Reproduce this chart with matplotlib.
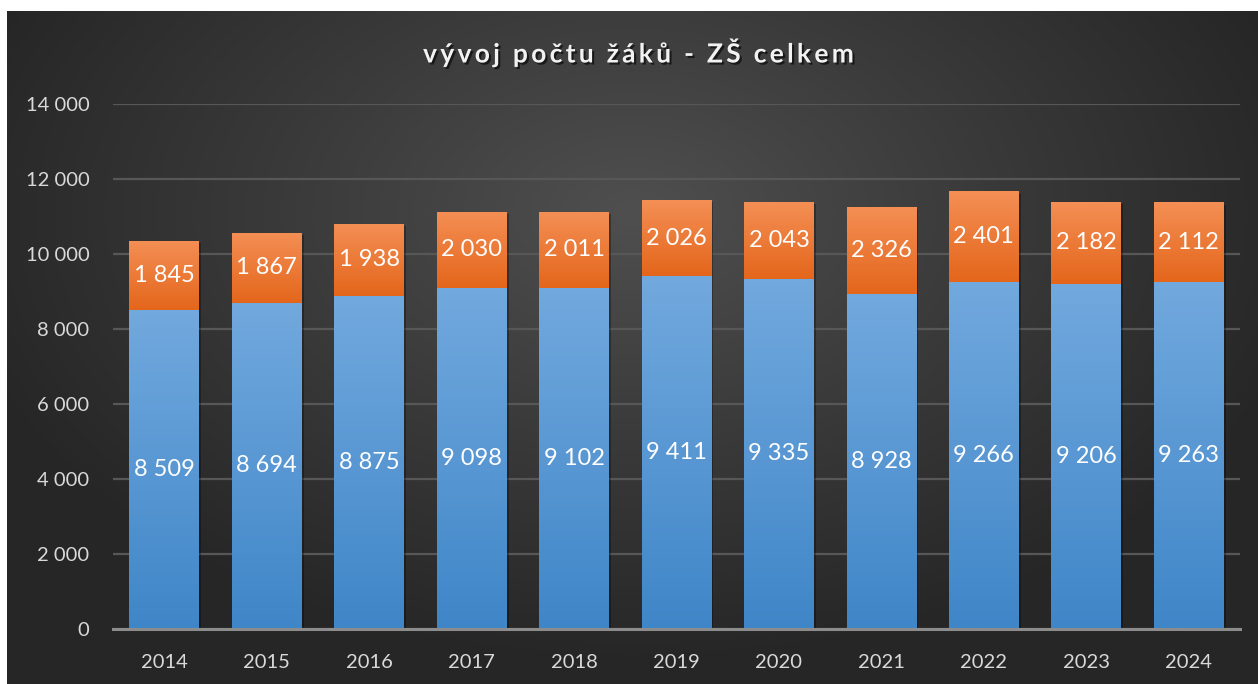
"""Stacked bar chart: vývoj počtu žáků - ZŠ celkem."""

import matplotlib

matplotlib.use("Agg")
import matplotlib.patheffects as pe
import matplotlib.pyplot as plt
import numpy as np
from matplotlib.colors import LinearSegmentedColormap

years = ["2014", "2015", "2016", "2017", "2018", "2019", "2020", "2021", "2022", "2023", "2024"]
lower_vals = [8509, 8694, 8875, 9098, 9102, 9411, 9335, 8928, 9266, 9206, 9263]
upper_vals = [1845, 1867, 1938, 2030, 2011, 2026, 2043, 2326, 2401, 2182, 2112]
y_ticks = [0, 2000, 4000, 6000, 8000, 10000, 12000, 14000]
title = "vývoj počtu žáků - ZŠ celkem"

FONT = ["Lato", "DejaVu Sans"]
plt.rcParams["font.family"] = FONT


def fmt(v):
    return f"{v:,}".replace(",", " ")


def gradient_fill(ax, patches, top_color, bottom_color):
    cmap = LinearSegmentedColormap.from_list("g", [bottom_color, top_color])
    grad = np.linspace(0, 1, 256).reshape(-1, 1)
    for p in patches:
        x0, y0 = p.get_x(), p.get_y()
        w, h = p.get_width(), p.get_height()
        im = ax.imshow(grad, cmap=cmap, origin="lower", aspect="auto",
                       extent=(x0, x0 + w, y0, y0 + h), zorder=p.get_zorder() + 0.1,
                       interpolation="bicubic")
        im.set_clip_path(p)


def main():
    W, H = 1258, 684
    fig = plt.figure(figsize=(W / 100, H / 100), dpi=100, facecolor="white")

    # dark radial background panel
    bg = fig.add_axes([7 / W, 0, 1 - 7 / W, 1 - 11 / H], zorder=0)
    yy, xx = np.mgrid[0:1:300j, 0:1:500j]
    r = np.sqrt(((xx - 0.5) / 0.75) ** 2 + ((yy - 0.7) / 0.9) ** 2)
    r = np.clip(r / 0.75, 0, 1)
    bg_cmap = LinearSegmentedColormap.from_list("bg", ["#4f4f4f", "#3a3a3a", "#262626"])
    bg.imshow(r, cmap=bg_cmap, origin="lower", aspect="auto", extent=(0, 1, 0, 1))
    bg.set_axis_off()

    ax = fig.add_axes([113 / W, 1 - 629 / H, (1240 - 113) / W, (629 - 104) / H], zorder=1)
    ax.patch.set_alpha(0)

    x = np.arange(len(years))
    width = 0.68
    shadow = [pe.SimplePatchShadow(offset=(1.5, -1.5), shadow_rgbFace="black", alpha=0.3), pe.Normal()]
    b1 = ax.bar(x, lower_vals, width=width, color="#5b9bd5", zorder=3)
    b2 = ax.bar(x, upper_vals, width=width, bottom=lower_vals, color="#ed7d31", zorder=3)
    for p in list(b1) + list(b2):
        p.set_path_effects(shadow)
    gradient_fill(ax, b1, "#72a9de", "#3f86c8")
    gradient_fill(ax, b2, "#f48f55", "#e4661b")

    for i in range(len(years)):
        ax.text(x[i], lower_vals[i] / 2, fmt(lower_vals[i]), ha="center", va="center",
                color="white", fontsize=17, zorder=5)
        ax.text(x[i], lower_vals[i] + upper_vals[i] / 2, fmt(upper_vals[i]), ha="center",
                va="center", color="white", fontsize=17, zorder=5)

    ax.set_xlim(-0.5, len(years) - 0.5)
    ax.set_ylim(0, 14000)
    ax.set_yticks(y_ticks)
    ax.set_yticklabels([fmt(v) for v in y_ticks])
    ax.set_xticks(x)
    ax.set_xticklabels(years)
    ax.tick_params(axis="y", length=0, pad=17, labelsize=14.5, labelcolor="#d9d9d9")
    ax.tick_params(axis="x", length=0, pad=18, labelsize=14.5, labelcolor="#d9d9d9")
    ax.grid(axis="y", color="#575757", linewidth=1.6, zorder=0)
    for s in ["top", "right", "left"]:
        ax.spines[s].set_visible(False)
    ax.spines["bottom"].set_color("#8c8c8c")
    ax.spines["bottom"].set_linewidth(2.2)
    ax.spines["bottom"].set_zorder(6)

    spaced = "\u200a\u200a".join(title)
    fig.text((413 + 862) / 2 / W, 1 - 52 / H, spaced, ha="center", va="center",
             color="#f2f2f2", fontsize=19, fontweight="bold",
             path_effects=[pe.withSimplePatchShadow(offset=(1.5, -1.5), shadow_rgbFace="black",
                                                    alpha=0.6)])

    fig.savefig("out.png", dpi=100, facecolor="white")


if __name__ == "__main__":
    main()
